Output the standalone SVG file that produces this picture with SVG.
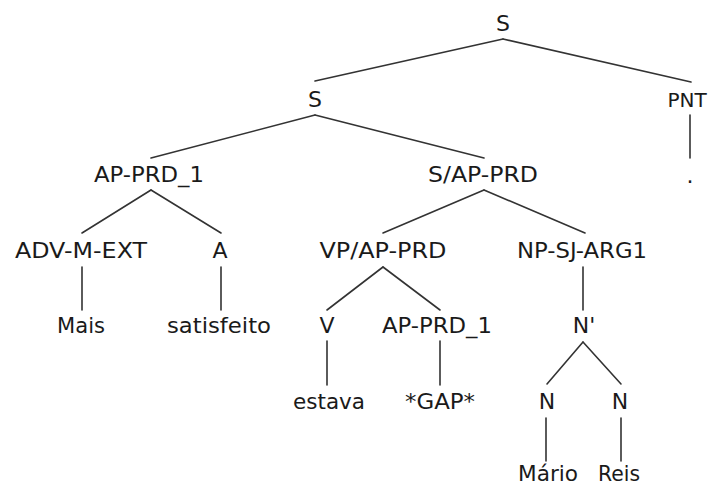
<svg xmlns="http://www.w3.org/2000/svg" width="710" height="485" viewBox="0 0 710 485">
  <style>
    .lbl { font-family: "DejaVu Sans", Verdana, sans-serif; font-size: 22px; fill: #1a1a1a; text-anchor: middle; }
    .edge { stroke: #333; stroke-width: 1.6; fill: none; stroke-linecap: round; }
  </style>
  <rect width="710" height="485" fill="#fff"/>

  <!-- tree edges -->
  <g id="edges" class="edge">
    <line x1="503" y1="39" x2="315" y2="81"/>
    <line x1="503" y1="39" x2="691" y2="82"/>
    <line x1="690" y1="115" x2="690" y2="158"/>
    <line x1="315" y1="115" x2="151" y2="158"/>
    <line x1="315" y1="115" x2="484" y2="158"/>
    <line x1="151" y1="190" x2="82" y2="233"/>
    <line x1="151" y1="190" x2="221" y2="233"/>
    <line x1="484" y1="190" x2="383" y2="233"/>
    <line x1="484" y1="190" x2="585" y2="233"/>
    <line x1="82" y1="267" x2="82" y2="310"/>
    <line x1="221" y1="267" x2="221" y2="310"/>
    <line x1="383" y1="267" x2="327" y2="310"/>
    <line x1="383" y1="267" x2="440" y2="310"/>
    <line x1="583" y1="267" x2="583" y2="310"/>
    <line x1="327" y1="341" x2="327" y2="385"/>
    <line x1="440" y1="341" x2="440" y2="385"/>
    <line x1="583" y1="342" x2="547" y2="384"/>
    <line x1="583" y1="342" x2="621" y2="384"/>
    <line x1="546" y1="418" x2="546" y2="461"/>
    <line x1="621" y1="418" x2="621" y2="461"/>
  </g>

  <!-- nodes -->
  <g id="n-s-root"><text class="lbl" x="503" y="31">S</text></g>
  <g id="n-s"><text class="lbl" x="315" y="107">S</text></g>
  <g id="n-pnt"><text class="lbl" x="687" y="107" style="font-size:20px">PNT</text></g>
  <g id="n-period"><text class="lbl" x="690" y="183">.</text></g>
  <g id="n-ap-prd-1"><text class="lbl" x="149" y="182" textLength="110" lengthAdjust="spacingAndGlyphs">AP-PRD_1</text></g>
  <g id="n-s-ap-prd"><text class="lbl" x="483" y="182" textLength="110" lengthAdjust="spacingAndGlyphs">S/AP-PRD</text></g>
  <g id="n-adv-m-ext"><text class="lbl" x="81" y="258" textLength="132" lengthAdjust="spacingAndGlyphs">ADV-M-EXT</text></g>
  <g id="n-a"><text class="lbl" x="220" y="258">A</text></g>
  <g id="n-vp-ap-prd"><text class="lbl" x="383" y="258" textLength="127" lengthAdjust="spacingAndGlyphs">VP/AP-PRD</text></g>
  <g id="n-np-sj-arg1"><text class="lbl" x="582" y="258" textLength="130" lengthAdjust="spacingAndGlyphs">NP-SJ-ARG1</text></g>
  <g id="n-mais"><text class="lbl" x="81" y="333" textLength="48" lengthAdjust="spacingAndGlyphs">Mais</text></g>
  <g id="n-satisfeito"><text class="lbl" x="219" y="333" textLength="104" lengthAdjust="spacingAndGlyphs">satisfeito</text></g>
  <g id="n-v"><text class="lbl" x="327" y="333">V</text></g>
  <g id="n-ap-prd-1b"><text class="lbl" x="437" y="333" textLength="110" lengthAdjust="spacingAndGlyphs">AP-PRD_1</text></g>
  <g id="n-nbar"><text class="lbl" x="584" y="333">N'</text></g>
  <g id="n-estava"><text class="lbl" x="329" y="409" textLength="72" lengthAdjust="spacingAndGlyphs">estava</text></g>
  <g id="n-gap"><text class="lbl" x="440" y="409" textLength="70" lengthAdjust="spacingAndGlyphs">*GAP*</text></g>
  <g id="n-n1"><text class="lbl" x="547" y="409">N</text></g>
  <g id="n-n2"><text class="lbl" x="620" y="409">N</text></g>
  <g id="n-mario"><text class="lbl" x="548" y="481" textLength="60" lengthAdjust="spacingAndGlyphs">Mário</text></g>
  <g id="n-reis"><text class="lbl" x="619" y="481" textLength="42" lengthAdjust="spacingAndGlyphs">Reis</text></g>
</svg>
